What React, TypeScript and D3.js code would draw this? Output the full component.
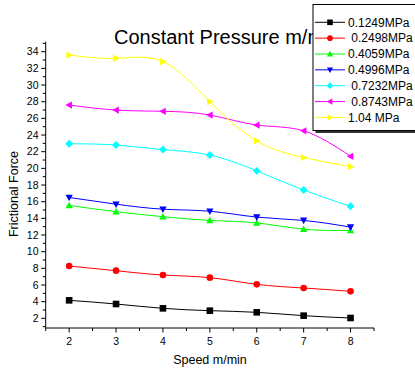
import React from "react";
import * as d3 from "d3";

const speeds = [2, 3, 4, 5, 6, 7, 8];
const seriesNames = ["0.1249MPa", " 0.2498MPa", "0.4059MPa", "0.4996MPa", " 0.7232MPa", " 0.8743MPa", "1.04 MPa"];
const seriesColors = ["#000000", "#ff0000", "#00ff00", "#0000ff", "#00ffff", "#ff00ff", "#ffff00"];
const seriesShapes = ["square", "circle", "triUp", "triDown", "diamond", "triLeft", "triRight"];
const s1249 = [4.16, 3.72, 3.2, 2.92, 2.72, 2.32, 2.04];
const s2498 = [8.28, 7.72, 7.2, 6.88, 6.08, 5.64, 5.24];
const s4059 = [15.55, 14.8, 14.2, 13.75, 13.45, 12.7, 12.55];
const s4996 = [16.5, 15.7, 15.1, 14.85, 14.15, 13.75, 12.95];
const s7232 = [22.95, 22.8, 22.25, 21.6, 19.7, 17.4, 15.45];
const s8743 = [27.6, 27.0, 26.85, 26.4, 25.2, 24.5, 21.45];
const s104 = [33.6, 33.2, 32.8, 28.0, 23.3, 21.3, 20.2];
const allSeries = [s1249, s2498, s4059, s4996, s7232, s8743, s104];
const yTickLabels = [2, 4, 6, 8, 10, 12, 14, 16, 18, 20, 22, 24, 26, 28, 30, 32, 34];
const xTickLabels = [2, 3, 4, 5, 6, 7, 8];

const FONT = "'Liberation Sans', Arial, sans-serif";

function markerPath(shape: string, r: number): string {
  switch (shape) {
    case "square":
      return `M${-r},${-r}H${r}V${r}H${-r}Z`;
    case "circle":
      return `M${r},0A${r},${r} 0 1,1 ${-r},0A${r},${r} 0 1,1 ${r},0Z`;
    case "triUp":
      return `M0,${-r * 1.15}L${r * 1.1},${r * 0.85}L${-r * 1.1},${r * 0.85}Z`;
    case "triDown":
      return `M0,${r * 1.15}L${r * 1.1},${-r * 0.85}L${-r * 1.1},${-r * 0.85}Z`;
    case "diamond":
      return `M0,${-r * 1.2}L${r * 1.2},0L0,${r * 1.2}L${-r * 1.2},0Z`;
    case "triLeft":
      return `M${-r * 1.15},0L${r * 0.85},${-r * 1.1}L${r * 0.85},${r * 1.1}Z`;
    case "triRight":
      return `M${r * 1.15},0L${-r * 0.85},${-r * 1.1}L${-r * 0.85},${r * 1.1}Z`;
  }
  return "";
}

export default function App() {
  const W = 415, H = 370;
  const x = d3.scaleLinear().domain([1.5, 8.5]).range([45.7, 374]);
  const y = d3.scaleLinear().domain([0.84, 35.2]).range([328, 41.7]);
  const line = d3
    .line<number>()
    .x((_, i) => x(speeds[i]))
    .y((d) => y(d))
    .curve(d3.curveNatural);

  const xMinor = d3.range(1.5, 8.51, 0.5);
  const yMinor = d3.range(1, 36, 1).filter((v) => v >= 0.84 && v <= 35.2);

  const legX = 313, legY = 4.5, legH = 126;

  return (
    <svg width={W} height={H} style={{ position: "absolute", left: 0, top: 0, background: "#fff" }} fontFamily={FONT}>
      <rect x={0} y={0} width={W} height={H} fill="#fff" />
      {/* title */}
      <text x={114} y={44} fontSize={20} fill="#000">Constant Pressure m/min</text>

      {/* axes */}
      <line x1={x(1.5)} x2={x(8.5)} y1={328} y2={328} stroke="#000" strokeWidth={1} />
      <line x1={45.7} x2={45.7} y1={y(35.2)} y2={328} stroke="#000" strokeWidth={1} />
      {xMinor.map((v) => {
        const major = Math.abs(v - Math.round(v)) < 1e-6;
        return (
          <line key={"xt" + v} x1={x(v)} x2={x(v)} y1={328} y2={328 + (major ? 4.5 : 3)} stroke="#000" strokeWidth={1} />
        );
      })}
      {yMinor.map((v) => {
        const major = v % 2 === 0;
        return (
          <line key={"yt" + v} x1={45.7} x2={45.7 - (major ? 4.5 : 3)} y1={y(v)} y2={y(v)} stroke="#000" strokeWidth={1} />
        );
      })}
      {xTickLabels.map((v) => (
        <text key={"xl" + v} x={x(v)} y={345} fontSize={10.5} textAnchor="middle" fill="#000">{v}</text>
      ))}
      {yTickLabels.map((v) => (
        <text key={"yl" + v} x={38.5} y={y(v) + 3.7} fontSize={10.5} textAnchor="end" fill="#000">{v}</text>
      ))}
      <text x={210} y={364} fontSize={12.5} textAnchor="middle" fill="#000">Speed m/min</text>
      <text transform={`translate(18.3,194) rotate(-90)`} fontSize={12.5} textAnchor="middle" fill="#000">Frictional Force</text>

      {/* series */}
      {allSeries.map((s, k) => (
        <g key={"s" + k}>
          <path d={line(s) || ""} fill="none" stroke={seriesColors[k]} strokeWidth={1} />
          {s.map((v, i) => (
            <path key={i} d={markerPath(seriesShapes[k], 3.3)} transform={`translate(${x(speeds[i])},${y(v)})`} fill={seriesColors[k]} />
          ))}
        </g>
      ))}

      {/* legend */}
      <rect x={legX + 2.5} y={legY + 2.5} width={120} height={legH} fill="#333" />
      <rect x={legX} y={legY} width={120} height={legH} fill="#fff" stroke="#000" strokeWidth={1} />
      {seriesNames.map((n, k) => {
        const cy = 22.3 + k * 15.85;
        return (
          <g key={"lg" + k}>
            <line x1={315} x2={345} y1={cy} y2={cy} stroke={seriesColors[k]} strokeWidth={1} />
            <path d={markerPath(seriesShapes[k], 2.8)} transform={`translate(330,${cy})`} fill={seriesColors[k]} />
            <text x={348} y={cy + 4.2} fontSize={12} fill="#000" xmlSpace="preserve" style={{ whiteSpace: "pre" }}>{n}</text>
          </g>
        );
      })}
    </svg>
  );
}
